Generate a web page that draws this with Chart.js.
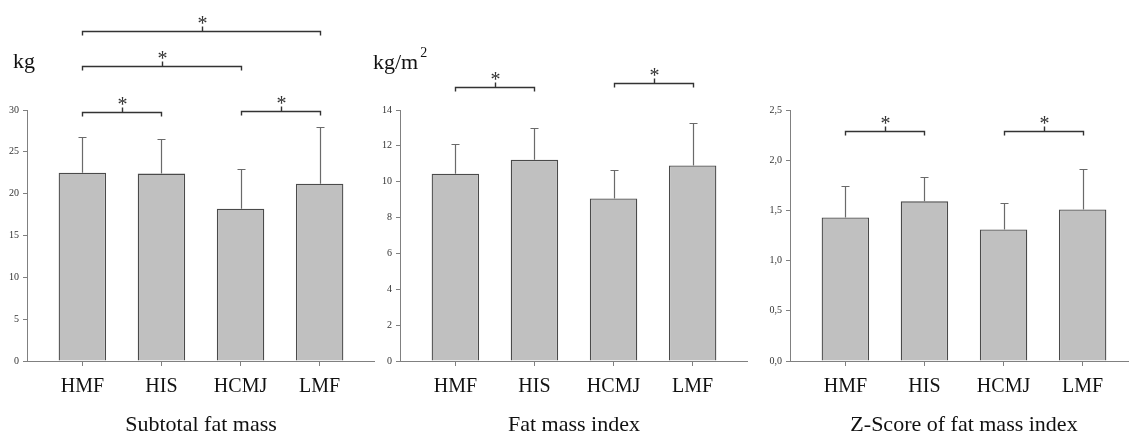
<!DOCTYPE html>
<html>
<head>
<meta charset="utf-8">
<script src="https://cdn.jsdelivr.net/npm/chart.js@4.4.0/dist/chart.umd.min.js"></script>
<style>
  html, body { margin: 0; padding: 0; background: #fff; overflow: hidden; }
  #wrap { position: relative; width: 1129px; height: 438px; overflow: hidden; }
  canvas { position: absolute; top: 0; }
</style>
</head>
<body>
<div id="wrap">
  <canvas id="g1" width="375" height="438" style="left:0px"></canvas>
  <canvas id="g2" width="383" height="438" style="left:365px"></canvas>
  <canvas id="g3" width="390" height="438" style="left:748px"></canvas>
</div>
<script>
const groups = ['HMF', 'HIS', 'HCMJ', 'LMF'];

// subtotal fat mass (kg)
const fatMass = [22.5, 22.4, 18.2, 21.2];
const fatMassSD = [4.3, 4.1, 4.7, 6.8];
const fatMassSig = [[0, 1, 29.8], [2, 3, 29.85], [0, 2, 35.3], [0, 3, 39.5]];

// fat mass index (kg/m2)
const fmi = [10.45, 11.22, 9.07, 10.91];
const fmiSD = [1.65, 1.75, 1.58, 2.38];
const fmiSig = [[0, 1, 15.3], [2, 3, 15.5]];

// z-score of fat mass index
const fmiZ = [1.43, 1.59, 1.31, 1.51];
const fmiZSD = [0.31, 0.24, 0.26, 0.40];
const fmiZSig = [[0, 1, 2.29], [2, 3, 2.29]];

Chart.defaults.font.family = "'Liberation Serif', 'Times New Roman', serif";

const errorBars = {
    id: 'errorBars',
    afterDatasetsDraw(chart) {
        const ctx = chart.ctx, y = chart.scales.y;
        const ds = chart.data.datasets[0];
        chart.getDatasetMeta(0).data.forEach((bar, i) => {
            const top = Math.round(y.getPixelForValue(ds.data[i].y + ds.sd[i])) + 0.5;
            const x = Math.round(bar.x) + 0.5;
            ctx.save();
            ctx.strokeStyle = '#6a6a6a';
            ctx.lineWidth = 1.2;
            ctx.beginPath();
            ctx.moveTo(x, bar.y);
            ctx.lineTo(x, top);
            ctx.moveTo(x - 4, top);
            ctx.lineTo(x + 4, top);
            ctx.stroke();
            ctx.restore();
        });
    }
};

const brackets = {
    id: 'brackets',
    afterDraw(chart, args, opts) {
        const ctx = chart.ctx, x = chart.scales.x, y = chart.scales.y;
        (opts.pairs || []).forEach(([a, b, lvl]) => {
            const xa = Math.round(x.getPixelForValue(a)) + 0.5;
            const xb = Math.round(x.getPixelForValue(b)) + 0.5;
            const mid = Math.round((xa + xb) / 2) + 0.5;
            const yp = Math.round(y.getPixelForValue(lvl)) + 0.5;
            ctx.save();
            ctx.strokeStyle = '#333';
            ctx.lineWidth = 1.4;
            ctx.beginPath();
            ctx.moveTo(xa, yp + 4);
            ctx.lineTo(xa, yp);
            ctx.lineTo(xb, yp);
            ctx.lineTo(xb, yp + 4);
            ctx.moveTo(mid, yp);
            ctx.lineTo(mid, yp - 5);
            ctx.stroke();
            ctx.fillStyle = '#333';
            ctx.font = "20px 'Liberation Serif'";
            ctx.textAlign = 'center';
            ctx.textBaseline = 'alphabetic';
            ctx.fillText('*', mid, yp - 2);
            ctx.restore();
        });
    }
};

const unitLabel = {
    id: 'unitLabel',
    afterDraw(chart, args, opts) {
        if (!opts.text) return;
        const ctx = chart.ctx;
        ctx.save();
        ctx.fillStyle = '#111';
        ctx.textAlign = 'left';
        ctx.textBaseline = 'alphabetic';
        ctx.font = "22px 'Liberation Serif'";
        ctx.fillText(opts.text, opts.x, opts.y);
        if (opts.sup) {
            const w = ctx.measureText(opts.text).width;
            ctx.font = "14px 'Liberation Serif'";
            ctx.fillText(opts.sup, opts.x + w + 2, opts.y - 12);
        }
        ctx.restore();
    }
};

function makeChart(canvasID, p) {
    return new Chart(document.getElementById(canvasID), {
        type: 'bar',
        data: {
            datasets: [{
                data: p.values.map((v, i) => ({ x: i, y: v })),
                sd: p.sd,
                backgroundColor: '#c0c0c0',
                borderColor: '#4a4a4a',
                borderWidth: 1.3,
                barPercentage: 0.6,
                categoryPercentage: 1
            }]
        },
        options: {
            responsive: false,
            animation: false,
            devicePixelRatio: 1,
            layout: { padding: { top: 110, right: 0, left: 0, bottom: 0 } },
            plugins: {
                legend: { display: false },
                tooltip: { enabled: false },
                brackets: { pairs: p.sig },
                unitLabel: p.unit
            },
            scales: {
                x: {
                    type: 'linear', min: -0.7, max: 3.7, offset: false,
                    afterBuildTicks: (s) => { s.ticks = groups.map((g, i) => ({ value: i })); },
                    afterFit: (s) => { s.height = 77; },
                    grid: { drawOnChartArea: false, offset: false, tickLength: 5, color: '#808080' },
                    border: { color: '#808080' },
                    ticks: { padding: 9, color: '#111', font: { size: 20 }, maxRotation: 0, autoSkip: false,
                             callback: (v) => groups[v] },
                    title: { display: true, text: p.title, color: '#111', font: { size: 22 }, padding: 0 }
                },
                y: {
                    min: 0, max: p.max,
                    afterFit: (s) => { s.width = p.yw; },
                    ticks: { stepSize: p.step, padding: 4, color: '#333', font: { size: 10 }, callback: p.fmt },
                    grid: { drawOnChartArea: false, tickLength: 4, color: '#808080' },
                    border: { color: '#808080' }
                }
            }
        },
        plugins: [errorBars, brackets, unitLabel]
    });
}

makeChart('g1', {
    values: fatMass, sd: fatMassSD, sig: fatMassSig, title: 'Subtotal fat mass',
    max: 30, step: 5, yw: 27, fmt: (v) => v,
    unit: { text: 'kg', x: 13, y: 68 }
});

makeChart('g2', {
    values: fmi, sd: fmiSD, sig: fmiSig, title: 'Fat mass index',
    max: 14, step: 2, yw: 35, fmt: (v) => v,
    unit: { text: 'kg/m', sup: '2', x: 8, y: 69 }
});

makeChart('g3', {
    values: fmiZ, sd: fmiZSD, sig: fmiZSig, title: 'Z-Score of fat mass index',
    max: 2.5, step: 0.5, yw: 42, fmt: (v) => v.toFixed(1).replace('.', ','),
    unit: {}
});
</script>
</body>
</html>
